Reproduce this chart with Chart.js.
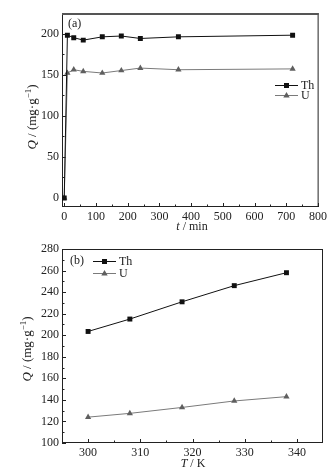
<!DOCTYPE html>
<html>
<head>
<meta charset="utf-8">
<script src="https://cdn.jsdelivr.net/npm/chart.js@4.4.0/dist/chart.umd.min.js"></script>
<style>
  html, body { margin: 0; padding: 0; background: #fff; }
  #wrap { position: relative; width: 330px; height: 474px; }
  canvas { position: absolute; left: 0; }
  #chart-time { top: 0; }
  #chart-temp { top: 232px; }
</style>
</head>
<body>
<div id="wrap">
  <canvas id="chart-time" width="330" height="232"></canvas>
  <canvas id="chart-temp" width="330" height="242"></canvas>
</div>
<script>
// (a) uptake vs contact time
var timeMin = [0, 10, 30, 60, 120, 180, 240, 360, 720];
var thByTime = [0, 198, 195, 192, 196, 197, 194, 196, 198];
var uByTime = [0, 152, 156, 154, 152, 155, 158, 156, 157];
var timeTicks = [0, 100, 200, 300, 400, 500, 600, 700, 800];
var timeMinor = [50, 150, 250, 350, 450, 550, 650, 750];
var qTicksA = [0, 50, 100, 150, 200];
var qMinorA = [25, 75, 125, 175];

// (b) uptake vs temperature
var tempK = [300, 308, 318, 328, 338];
var thByTemp = [203.5, 215, 231, 246, 258];
var uByTemp = [124, 127.5, 133, 139, 143];
var tempTicks = [300, 310, 320, 330, 340];
var tempMinor = [305, 315, 325, 335];
var qTicksB = [100, 120, 140, 160, 180, 200, 220, 240, 260, 280];
var qMinorB = [110, 130, 150, 170, 190, 210, 230, 250, 270];

var SERIF = "'Liberation Serif', 'Times New Roman', serif";
var INK = "#222";
var TH_COLOR = "#111";
var U_LINE = "#7a7a7a";
var U_MARK = "#5f5f5f";

function pairs(xs, ys) {
  return xs.map(function (x, i) { return { x: x, y: ys[i] }; });
}

function fixedTicks(list) {
  return function (scale) {
    scale.ticks = list.map(function (v) { return { value: v }; });
  };
}

function drawRich(ctx, parts, cx, cy, angle) {
  ctx.save();
  ctx.translate(cx, cy);
  ctx.rotate(angle);
  var total = 0;
  parts.forEach(function (p) {
    ctx.font = p.font;
    p.w = ctx.measureText(p.text).width;
    total += p.w;
  });
  var x = -total / 2;
  ctx.textAlign = "left";
  ctx.textBaseline = "middle";
  ctx.fillStyle = INK;
  parts.forEach(function (p) {
    ctx.font = p.font;
    ctx.fillText(p.text, x, p.dy || 0);
    x += p.w;
  });
  ctx.restore();
}

function drawMarker(ctx, style, x, y, color) {
  ctx.fillStyle = color;
  if (style === "rect") {
    ctx.fillRect(x - 2.5, y - 2.5, 5, 5);
  } else {
    ctx.beginPath();
    ctx.moveTo(x, y - 3.5);
    ctx.lineTo(x + 3.2, y + 2);
    ctx.lineTo(x - 3.2, y + 2);
    ctx.closePath();
    ctx.fill();
  }
}

var qTitle = function () {
  return [
    { text: "Q", font: "italic 13px " + SERIF },
    { text: " / (mg\u00b7g", font: "13px " + SERIF },
    { text: "\u22121", font: "9px " + SERIF, dy: -4 },
    { text: ")", font: "13px " + SERIF }
  ];
};

// frame, inward ticks, axis titles, panel tag and legend
var framePlugin = {
  id: "frame",
  beforeDatasetsDraw: function (chart, args, o) {
    var ctx = chart.ctx, a = chart.chartArea;
    var xs = chart.scales.x, ys = chart.scales.y;
    ctx.save();
    ctx.strokeStyle = INK;
    ctx.lineWidth = 1;
    ctx.strokeRect(a.left + 0.5, a.top + 0.5, a.right - a.left - 1, a.bottom - a.top - 1);
    if (o.thickTop) {
      ctx.fillStyle = "#555";
      ctx.fillRect(a.left, a.top, a.right - a.left, 2);
    }
    ctx.beginPath();
    function xTick(v, len) {
      var px = Math.round(xs.getPixelForValue(v)) + 0.5;
      ctx.moveTo(px, a.bottom);
      ctx.lineTo(px, a.bottom - len);
    }
    function yTick(v, len) {
      var py = Math.round(ys.getPixelForValue(v)) + 0.5;
      ctx.moveTo(a.left, py);
      ctx.lineTo(a.left + len, py);
    }
    o.xMajor.forEach(function (v) { xTick(v, 4); });
    o.xMinor.forEach(function (v) { xTick(v, 2.5); });
    o.yMajor.forEach(function (v) { yTick(v, 4); });
    o.yMinor.forEach(function (v) { yTick(v, 2.5); });
    ctx.stroke();
    ctx.restore();
  },
  afterDatasetsDraw: function (chart, args, o) {
    var ctx = chart.ctx;
    ctx.save();
    drawRich(ctx, qTitle(), o.yTitle[0], o.yTitle[1], -Math.PI / 2);
    drawRich(ctx, o.xTitleParts, o.xTitle[0], o.xTitle[1], 0);

    ctx.font = "12px " + SERIF;
    ctx.fillStyle = INK;
    ctx.textBaseline = "middle";
    ctx.textAlign = "left";
    ctx.fillText(o.tag, o.tagPos[0], o.tagPos[1]);

    var lx = o.legend[0];
    chart.data.datasets.forEach(function (ds, i) {
      var ly = o.legend[1] + i * o.legend[2];
      ctx.strokeStyle = ds.borderColor;
      ctx.lineWidth = 1;
      ctx.beginPath();
      ctx.moveTo(lx, ly + 0.5);
      ctx.lineTo(lx + 23, ly + 0.5);
      ctx.stroke();
      drawMarker(ctx, ds.pointStyle, lx + 11.5, ly + 0.5, ds.pointBackgroundColor);
      ctx.fillStyle = INK;
      ctx.font = "12px " + SERIF;
      ctx.fillText(ds.label, lx + 26, ly + 1);
    });
    ctx.restore();
  }
};

function makeDatasets(xs, th, u) {
  return [
    {
      label: "Th",
      data: pairs(xs, th),
      showLine: true,
      borderColor: TH_COLOR,
      backgroundColor: TH_COLOR,
      pointBackgroundColor: TH_COLOR,
      pointBorderColor: TH_COLOR,
      borderWidth: 1,
      pointStyle: "rect",
      pointRadius: 3.5,
      pointBorderWidth: 0
    },
    {
      label: "U",
      data: pairs(xs, u),
      showLine: true,
      borderColor: U_LINE,
      backgroundColor: U_MARK,
      pointBackgroundColor: U_MARK,
      pointBorderColor: U_MARK,
      borderWidth: 1,
      pointStyle: "triangle",
      pointRadius: 3.6,
      pointBorderWidth: 0
    }
  ];
}

function axis(min, max, ticks, pad, fit) {
  return {
    type: "linear",
    min: min,
    max: max,
    afterBuildTicks: fixedTicks(ticks),
    afterFit: fit,
    grid: { display: false, drawTicks: false },
    border: { display: false },
    ticks: {
      color: INK,
      padding: pad,
      font: { family: SERIF, size: 12 },
      maxRotation: 0,
      autoSkip: false
    }
  };
}

function buildChart(el, cfg) {
  return new Chart(el, {
    type: "scatter",
    data: { datasets: makeDatasets(cfg.x, cfg.th, cfg.u) },
    options: {
      responsive: false,
      animation: false,
      devicePixelRatio: 1,
      layout: { padding: { top: cfg.top, right: 7, left: 0, bottom: 0 } },
      elements: { line: { tension: 0 } },
      plugins: {
        legend: { display: false },
        tooltip: { enabled: false },
        frame: cfg.frame
      },
      scales: {
        x: axis(cfg.xMin, cfg.xMax, cfg.xTicks, 3, function (s) { s.height = cfg.xHeight; }),
        y: axis(cfg.yMin, cfg.yMax, cfg.yTicks, 3, function (s) { s.width = 62; })
      }
    },
    plugins: [framePlugin]
  });
}

buildChart(document.getElementById("chart-time"), {
  x: timeMin, th: thByTime, u: uByTime,
  xMin: -7, xMax: 802, xTicks: timeTicks,
  yMin: -11, yMax: 225, yTicks: qTicksA,
  top: 13, xHeight: 25,
  frame: {
    thickTop: true,
    xMajor: timeTicks, xMinor: timeMinor,
    yMajor: qTicksA, yMinor: qMinorA,
    yTitle: [33, 117],
    xTitle: [192, 227],
    xTitleParts: [
      { text: "t", font: "italic 12px " + SERIF },
      { text: " / min", font: "12px " + SERIF }
    ],
    tag: "(a)", tagPos: [68, 24],
    legend: [275, 85, 10]
  }
});

buildChart(document.getElementById("chart-temp"), {
  x: tempK, th: thByTemp, u: uByTemp,
  xMin: 295, xMax: 345, xTicks: tempTicks,
  yMin: 100, yMax: 280, yTicks: qTicksB,
  top: 17, xHeight: 31,
  frame: {
    thickTop: false,
    xMajor: tempTicks, xMinor: tempMinor,
    yMajor: qTicksB, yMinor: qMinorB,
    yTitle: [28, 117],
    xTitle: [193, 232],
    xTitleParts: [
      { text: "T", font: "italic 12px " + SERIF },
      { text: " / K", font: "12px " + SERIF }
    ],
    tag: "(b)", tagPos: [70, 29],
    legend: [93, 29, 12]
  }
});
</script>
</body>
</html>
